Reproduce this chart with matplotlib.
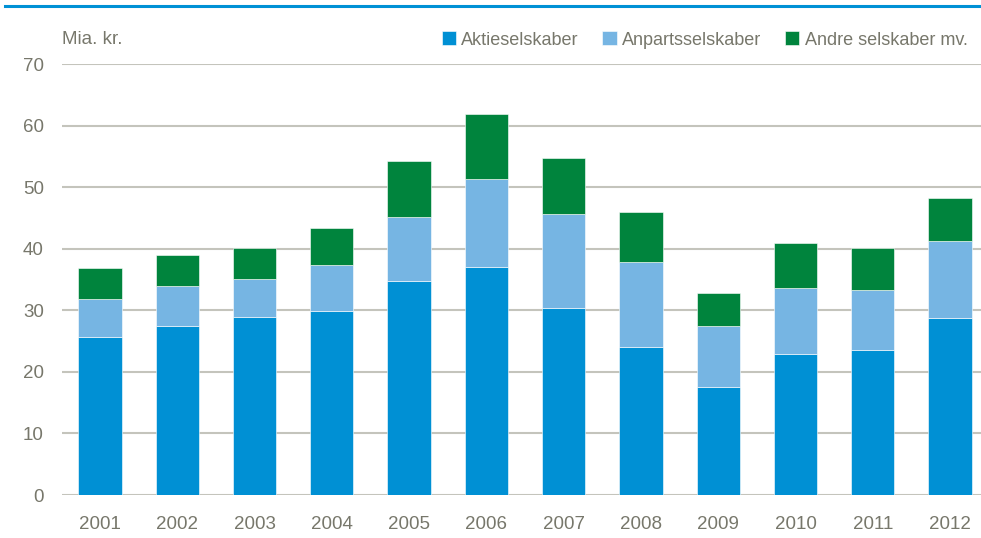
import matplotlib.pyplot as plt
import numpy as np

years = ["2001", "2002", "2003", "2004", "2005", "2006",
         "2007", "2008", "2009", "2010", "2011", "2012"]
aktie = [25.7, 27.4, 28.9, 29.9, 34.8, 37.0, 30.4, 24.0, 17.5, 22.9, 23.6, 28.7]
anparts = [6.1, 6.5, 6.2, 7.5, 10.4, 14.3, 15.2, 13.8, 9.9, 10.7, 9.7, 12.6]
andre = [5.1, 5.1, 5.0, 6.0, 9.0, 10.6, 9.1, 8.2, 5.4, 7.3, 6.8, 6.9]
series_names = ["Aktieselskaber", "Anpartsselskaber", "Andre selskaber mv."]

plt.rcParams['font.family'] = ['Liberation Sans Narrow', 'Liberation Sans', 'DejaVu Sans']
txt = '#77776b'
grid_col = '#c4c4bc'
colors = ['#0090d4', '#76b5e3', '#00843d']

fig = plt.figure(figsize=(9.81, 5.38), dpi=100)
ax = fig.add_axes([62 / 981, 1 - 495 / 538, 1 - 62 / 981, (495 - 64) / 538])

x = np.arange(len(years))
bottom = np.zeros(len(years))
for vals, col, name in zip([aktie, anparts, andre], colors, series_names):
    ax.bar(x, vals, width=0.56, bottom=bottom, color=col, label=name,
           edgecolor='white', linewidth=0.4, zorder=3)
    bottom += np.array(vals)

ax.set_ylim(0, 70)
ax.set_xlim(-0.49, 11.4)
ax.set_yticks(range(0, 71, 10))
ax.set_xticks(x)
ax.set_xticklabels(years)
ax.yaxis.grid(True, color=grid_col, linewidth=1.5, zorder=0)
for s in ax.spines.values():
    s.set_visible(False)
ax.tick_params(length=0, labelsize=13.5, colors=txt)
ax.tick_params(axis='y', pad=13)
ax.tick_params(axis='x', pad=15)

fig.text(62 / 981, 1 - 40 / 538, "Mia. kr.", color=txt, fontsize=13.5, va='center')
leg = fig.legend(loc='center right', bbox_to_anchor=(1.003, 1 - 40 / 538), ncol=3,
                 frameon=False, fontsize=13, handlelength=0.8, handleheight=0.8,
                 handletextpad=0.3, columnspacing=1.3, labelcolor=txt)

# top blue rule
fig.add_artist(plt.Line2D([5 / 981, 1], [1 - 6 / 538, 1 - 6 / 538],
                          color='#0091d5', linewidth=2.2))

fig.savefig("out.png", dpi=100)
